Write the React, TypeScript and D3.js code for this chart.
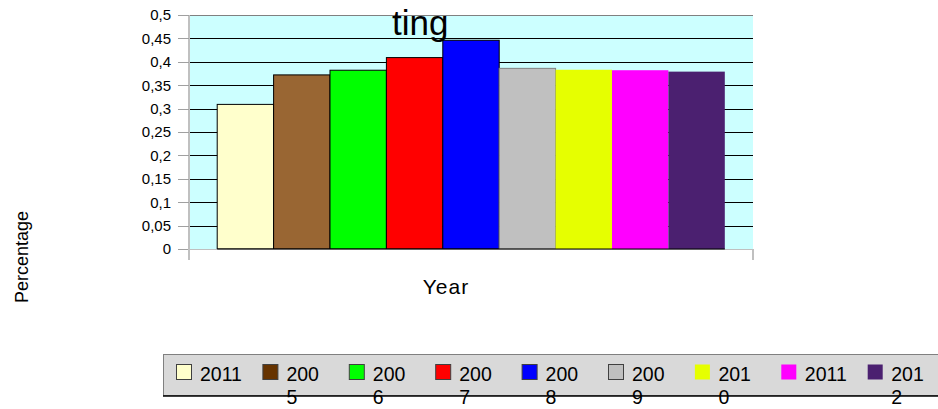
import * as d3 from 'd3';
import { useEffect, useRef } from 'react';

// series (one bar per year) and their values
const seriesNames = ['2011', '2005', '2006', '2007', '2008', '2009', '2010', '2011', '2012'];
const seriesValues = [0.309, 0.372, 0.382, 0.409, 0.446, 0.386, 0.383, 0.382, 0.379];
const seriesColors = ['#ffffcc', '#996633', '#00ff00', '#ff0000', '#0000ff', '#c0c0c0', '#e6ff00', '#ff00ff', '#4b2070'];
const seriesStrokes = ['#000', '#000', '#000', '#000', '#000', '#808080', 'none', 'none', 'none'];
const legendSwatchColors = ['#ffffcc', '#663300', '#00ff00', '#ff0000', '#0000ff', '#c0c0c0', '#e6ff00', '#ff00ff', '#4b2070'];
// legend labels as they wrap in the picture
const legendLines = [['2011'], ['200', '5'], ['200', '6'], ['200', '7'], ['200', '8'], ['200', '9'], ['201', '0'], ['2011'], ['201', '2']];
const yTicks = [0, 0.05, 0.1, 0.15, 0.2, 0.25, 0.3, 0.35, 0.4, 0.45, 0.5];

const titleText = 'ting';
const xTitle = 'Year';
const yTitle = 'Percentage';

const App = () => {
  const width = 938;
  const height = 409;
  const plotLeft = 189;
  const plotRight = 753;
  const plotTop = 15;
  const plotBottom = 249;
  const font = '"Liberation Sans", Arial, sans-serif';

  const ref = useRef<HTMLDivElement>(null);

  const x = d3
    .scaleBand<number>()
    .domain(d3.range(seriesNames.length))
    .range([plotLeft, plotRight])
    .paddingInner(0)
    .paddingOuter(0.5);

  const y = d3.scaleLinear().domain([0, 0.5]).range([plotBottom, plotTop]);

  const fmt = d3.formatLocale({ decimal: ',', thousands: '.', grouping: [3], currency: ['', ''] }).format('~g');

  const legendX = d3
    .scaleBand<number>()
    .domain(d3.range(seriesNames.length))
    .range([176, 176 + 86.4 * seriesNames.length]);

  useEffect(() => {
    if (!ref.current) return;

    const svg = d3
      .create('svg')
      .attr('width', width)
      .attr('height', height)
      .style('position', 'absolute')
      .style('left', '0px')
      .style('top', '0px')
      .style('font-family', font);

    // plot background
    svg
      .append('rect')
      .attr('x', plotLeft)
      .attr('y', plotTop)
      .attr('width', plotRight - plotLeft)
      .attr('height', plotBottom - plotTop)
      .attr('fill', '#ccffff');

    // grid lines
    svg
      .append('g')
      .selectAll('line')
      .data(yTicks.filter((d) => d > 0))
      .join('line')
      .attr('x1', plotLeft)
      .attr('x2', plotRight)
      .attr('y1', (d) => Math.round(y(d)) + 0.5)
      .attr('y2', (d) => Math.round(y(d)) + 0.5)
      .attr('stroke', (d) => (d === 0.5 ? '#808080' : '#000'))
      .attr('stroke-width', 1);

    // bars
    svg
      .append('g')
      .selectAll('rect')
      .data(seriesValues)
      .join('rect')
      .attr('x', (_, i) => x(i)!)
      .attr('y', (d) => y(d))
      .attr('width', x.bandwidth())
      .attr('height', (d) => plotBottom - y(d))
      .attr('fill', (_, i) => seriesColors[i])
      .attr('stroke', (_, i) => seriesStrokes[i])
      .attr('stroke-width', 1);

    // y axis
    const yAxis = svg.append('g');
    yAxis
      .append('line')
      .attr('x1', plotLeft)
      .attr('x2', plotLeft)
      .attr('y1', plotTop)
      .attr('y2', plotBottom + 11)
      .attr('stroke', '#c0c0c0')
      .attr('stroke-width', 2);
    yAxis
      .selectAll('line.tick')
      .data(yTicks)
      .join('line')
      .attr('class', 'tick')
      .attr('x1', plotLeft - 11)
      .attr('x2', plotLeft)
      .attr('y1', (d) => Math.round(y(d)) + 0.5)
      .attr('y2', (d) => Math.round(y(d)) + 0.5)
      .attr('stroke', '#a0a0a0');
    yAxis
      .selectAll('text')
      .data(yTicks)
      .join('text')
      .attr('x', 171)
      .attr('y', (d) => y(d))
      .attr('dy', '0.36em')
      .attr('text-anchor', 'end')
      .attr('font-size', 15)
      .attr('fill', '#000')
      .text((d) => fmt(d));

    // x axis
    const xAxis = svg.append('g');
    xAxis
      .append('line')
      .attr('x1', plotLeft)
      .attr('x2', plotRight)
      .attr('y1', plotBottom + 0.5)
      .attr('y2', plotBottom + 0.5)
      .attr('stroke', '#c0c0c0')
      .attr('stroke-width', 1);
    xAxis
      .selectAll('line.tick')
      .data(x.range())
      .join('line')
      .attr('class', 'tick')
      .attr('x1', (d) => d)
      .attr('x2', (d) => d)
      .attr('y1', plotBottom)
      .attr('y2', plotBottom + 11)
      .attr('stroke', '#c0c0c0')
      .attr('stroke-width', 2);

    // bar base line
    svg
      .append('line')
      .attr('x1', x(0)!)
      .attr('x2', x(seriesValues.length - 1)! + x.bandwidth())
      .attr('y1', plotBottom)
      .attr('y2', plotBottom)
      .attr('stroke', '#000');

    // titles
    svg
      .append('text')
      .attr('x', 392)
      .attr('y', 35)
      .attr('font-size', 35)
      .attr('fill', '#000')
      .text(titleText);

    svg
      .append('text')
      .attr('x', 446)
      .attr('y', 294)
      .attr('text-anchor', 'middle')
      .attr('font-size', 21)
      .attr('letter-spacing', 1)
      .attr('fill', '#000')
      .text(xTitle);

    svg
      .append('text')
      .attr('transform', 'translate(28,257) rotate(-90)')
      .attr('text-anchor', 'middle')
      .attr('font-size', 18)
      .attr('fill', '#000')
      .text(yTitle);

    // legend
    const legend = svg.append('g');
    legend
      .append('rect')
      .attr('x', 163.5)
      .attr('y', 354.5)
      .attr('width', width)
      .attr('height', 41)
      .attr('fill', '#d9d9d9')
      .attr('stroke', '#808080');
    legend
      .append('line')
      .attr('x1', 163)
      .attr('x2', width)
      .attr('y1', 396)
      .attr('y2', 396)
      .attr('stroke', '#000')
      .attr('stroke-width', 1.5);

    const items = legend
      .selectAll('g.item')
      .data(seriesNames)
      .join('g')
      .attr('class', 'item')
      .attr('transform', (_, i) => `translate(${legendX(i)},0)`);
    items
      .append('rect')
      .attr('x', 0.5)
      .attr('y', 364.5)
      .attr('width', 15)
      .attr('height', 15)
      .attr('fill', (_, i) => legendSwatchColors[i])
      .attr('stroke', (_, i) => (seriesStrokes[i] === 'none' ? 'none' : '#404040'));
    items
      .append('text')
      .attr('x', 24)
      .attr('y', 381)
      .attr('font-size', 19.5)
      .attr('fill', '#000')
      .selectAll('tspan')
      .data((_, i) => legendLines[i])
      .join('tspan')
      .attr('x', 24)
      .attr('dy', (_, j) => (j === 0 ? 0 : 23))
      .text((d) => d);

    ref.current.innerHTML = '';
    ref.current.appendChild(svg.node()!);
  }, [ref]);

  return <div ref={ref} />;
};

export default App;
